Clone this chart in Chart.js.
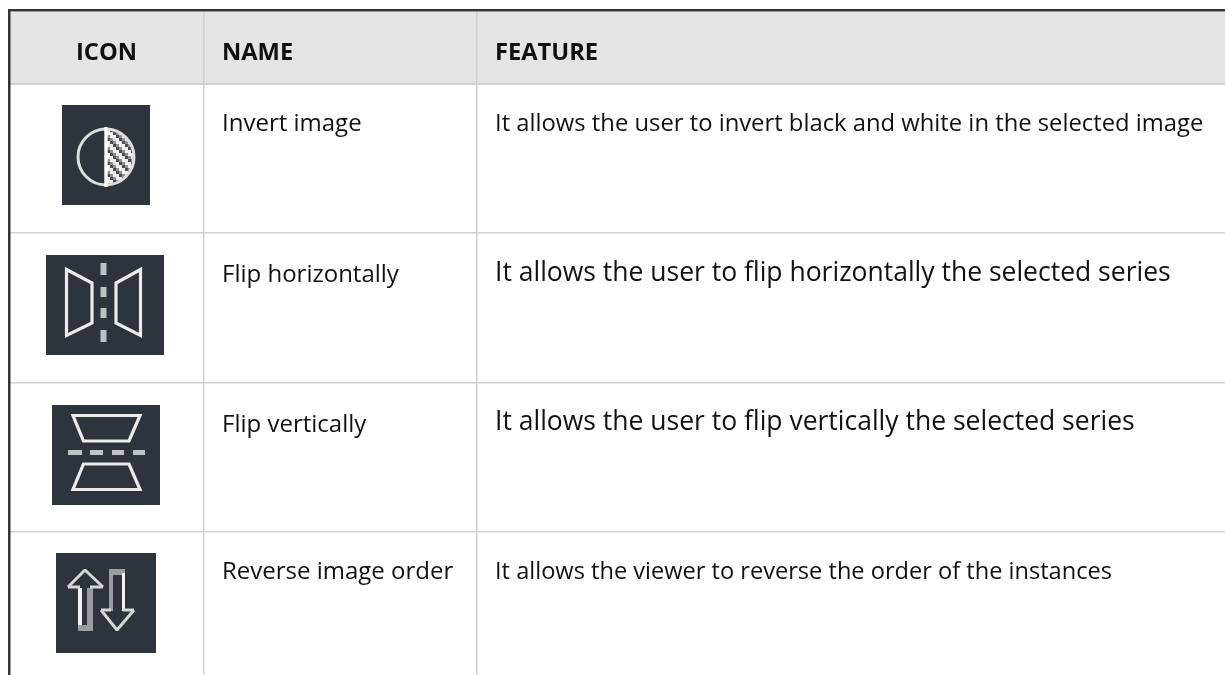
<!DOCTYPE html>
<html><head><meta charset="utf-8">
<style>html,body{margin:0;padding:0;background:#fff}canvas{display:block}</style>
<script src="https://cdn.jsdelivr.net/npm/chart.js@4/dist/chart.umd.min.js"></script>
</head><body>
<div style="width:1225px;height:675px"><canvas id="c" width="1225" height="675"></canvas></div>
<script>
const headers = ["ICON", "NAME", "FEATURE"];
const names = ["Invert image", "Flip horizontally", "Flip vertically", "Reverse image order"];
const features = [
  "It allows the user to invert black and white in the selected image",
  "It allows the user to flip horizontally the selected series",
  "It allows the user to flip vertically the selected series",
  "It allows the viewer to reverse the order of the instances"
];
const featureFontSizes = [23.8, 26.5, 26.5, 23.6];
const columnEdges = [9, 203, 476, 1225];
const rowEdges = [10, 84, 232, 382, 531, 675];
const nameBaselines = [131, 282, 432, 579];
const featureBaselines = [131, 281, 430, 579];
const iconKinds = ["invert", "flipH", "flipV", "reverse"];
const iconCentersX = [106, 105, 106, 106];
const iconCentersY = [155, 305, 455, 603];
const iconWidths = [88, 118, 108, 100];
const iconHeights = [100, 100, 100, 100];

const DARK = "#2e343b", LINE = "#ececec";
function poly(g, pts) {
  g.beginPath();
  pts.forEach((p, i) => i ? g.lineTo(p[0], p[1]) : g.moveTo(p[0], p[1]));
}
function makeIcon(kind, w, h) {
  const cv = document.createElement("canvas");
  cv.width = w; cv.height = h;
  const g = cv.getContext("2d");
  g.fillStyle = DARK; g.fillRect(0, 0, w, h);
  g.strokeStyle = LINE; g.fillStyle = LINE; g.lineJoin = "miter";
  const cx = w / 2, cy = h / 2;
  const P = (dx, dy) => [cx + dx, cy + dy];
  if (kind === "invert") {
    const oy = cy + 2;
    g.save();
    g.beginPath(); g.arc(cx, oy, 28.5, -Math.PI / 2, Math.PI / 2); g.closePath(); g.clip();
    g.fillStyle = "#eeeeee"; g.fillRect(cx, oy - 30, 32, 60);
    const s = 3;
    for (let i = 0; i < 11; i++) for (let j = 0; j < 21; j++) {
      const m = ((i - j) % 4 + 4) % 4;
      if (m === 0) { g.fillStyle = "#474d53"; g.fillRect(cx + 1 + i * s, oy - 31 + j * s, s, s); }
      if (m === 1) { g.fillStyle = "#8d9094"; g.fillRect(cx + 1 + i * s, oy - 31 + j * s, s, s); }
    }
    g.restore();
    g.filter = "blur(0.5px)";
    g.lineWidth = 3;
    g.strokeStyle = "#dcdddd";
    g.beginPath(); g.arc(cx, oy, 28, 0, Math.PI * 2); g.stroke();
    g.strokeStyle = "#ffffff";
    g.lineWidth = 3.4; g.beginPath(); g.moveTo(cx, oy - 30); g.lineTo(cx, oy + 30); g.stroke();
  } else if (kind === "flipH") {
    g.filter = "blur(0.7px)";
    g.lineWidth = 3.2;
    poly(g, [P(-38.5, -35.5), P(-13, -22), P(-13, 18), P(-38.5, 30.5)]); g.closePath(); g.stroke();
    poly(g, [P(35.5, -35.5), P(11, -22), P(11, 18), P(35.5, 30.5)]); g.closePath(); g.stroke();
    g.fillStyle = "#c0c2c4";
    [[-42, -30], [-18, -8], [3, 13], [25, 37]].forEach(d => g.fillRect(cx - 4.5, cy + d[0], 6, d[1] - d[0]));
  } else if (kind === "flipV") {
    g.filter = "blur(0.7px)";
    g.lineWidth = 3.2;
    poly(g, [P(-33, -39.5), P(34, -39.5), P(23, -14), P(-22.5, -14)]); g.closePath(); g.stroke();
    poly(g, [P(-33, 34.5), P(34, 34.5), P(23, 9), P(-22.5, 9)]); g.closePath(); g.stroke();
    g.fillStyle = "#c0c2c4";
    [[-38, -24], [-16, -3], [6, 18], [27, 39]].forEach(d => g.fillRect(cx + d[0], cy - 5, d[1] - d[0], 5));
  } else {
    g.fillStyle = "#9a9da0";
    g.fillRect(cx - 19, cy - 15, 6, 43);
    g.fillRect(cx - 28, cy + 22, 15, 6);
    g.fillRect(cx + 3, cy - 34, 4, 42);
    g.fillRect(cx + 3, cy - 34, 16, 6);
    g.fillStyle = "#f4f4f4";
    g.fillRect(cx - 28, cy - 15, 4, 37);
    g.fillRect(cx + 16, cy - 30, 3, 38);
    g.strokeStyle = "#d5d6d7"; g.lineWidth = 3; g.lineJoin = "bevel";
    poly(g, [P(-38, -16), P(-21, -33), P(-3, -16)]); g.stroke();
    g.beginPath(); g.moveTo(cx - 38, cy - 16); g.lineTo(cx - 26, cy - 16); g.moveTo(cx - 16, cy - 16); g.lineTo(cx - 3, cy - 16); g.stroke();
    poly(g, [P(-5, 7), P(11, 27), P(28, 7)]); g.stroke();
    g.beginPath(); g.moveTo(cx - 5, cy + 7); g.lineTo(cx + 5, cy + 7); g.moveTo(cx + 17, cy + 7); g.lineTo(cx + 28, cy + 7); g.stroke();
  }
  return cv;
}
const icons = iconKinds.map((k, i) => makeIcon(k, iconWidths[i], iconHeights[i]));

const tablePlugin = {
  id: "table",
  beforeDatasetsDraw(ch) {
    const { ctx, scales: { x, y } } = ch;
    const X = v => x.getPixelForValue(v), Y = v => y.getPixelForValue(v);
    const L = X(columnEdges[0]), R = X(columnEdges[3]), T = Y(rowEdges[0]), B = Y(rowEdges[5]);
    ctx.save();
    ctx.fillStyle = "#e4e4e4";
    ctx.fillRect(L, T, R - L, Y(rowEdges[1]) - T);
    ctx.fillStyle = "#d0d0d0";
    rowEdges.slice(2, 5).forEach(r => ctx.fillRect(L, Y(r), R - L, 1.5));
    ctx.fillRect(L, Y(rowEdges[1]) - 1, R - L, 2);
    columnEdges.slice(1, 3).forEach(c => ctx.fillRect(X(c), T, 1.5, B - T));
    ctx.fillStyle = "#333333";
    ctx.fillRect(L - 1, T - 1, R - L + 1, 2.4);
    ctx.fillRect(L - 1, T - 1, 2.5, B - T + 1);
    ctx.fillStyle = "#111111";
    ctx.textBaseline = "alphabetic";
    ctx.font = 'bold 23.7px "Open Sans"';
    ctx.textAlign = "center";
    ctx.fillText(headers[0], X(106.5), Y(60));
    ctx.textAlign = "left";
    ctx.fillText(headers[1], X(222), Y(60));
    ctx.fillText(headers[2], X(495), Y(60));
    names.forEach((n, i) => {
      ctx.font = '24px "Open Sans"';
      ctx.fillText(n, X(222), Y(nameBaselines[i]));
      ctx.font = featureFontSizes[i] + 'px "Open Sans"';
      ctx.fillText(features[i], X(495), Y(featureBaselines[i]));
    });
    ctx.restore();
  }
};

new Chart(document.getElementById("c"), {
  type: "scatter",
  data: { datasets: [{
    data: iconCentersX.map((cx, i) => ({ x: cx, y: iconCentersY[i] })),
    pointStyle: c => icons[c.dataIndex],
    pointRadius: 1, pointHoverRadius: 0, pointBorderWidth: 0, pointHoverBorderWidth: 0, clip: false
  }] },
  options: {
    responsive: false, animation: false, events: [],
    layout: { padding: 0, autoPadding: false },
    plugins: { legend: { display: false }, tooltip: { enabled: false } },
    scales: {
      x: { type: "linear", min: 0, max: 1225, display: false },
      y: { type: "linear", min: 0, max: 675, reverse: true, display: false }
    }
  },
  plugins: [tablePlugin]
});
</script>
</body></html>
